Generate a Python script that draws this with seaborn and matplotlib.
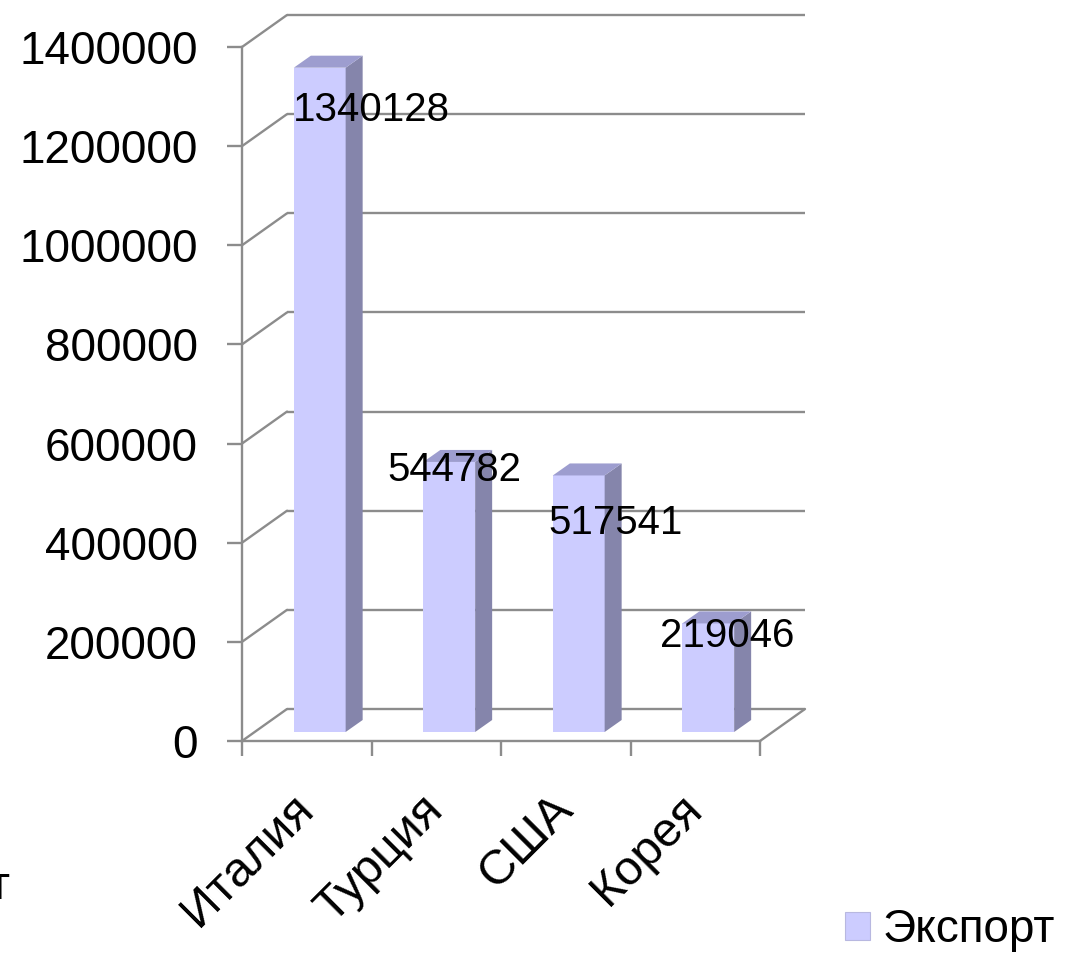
import numpy as np
import pandas as pd
import matplotlib.pyplot as plt
import seaborn as sns
from matplotlib.patches import Polygon, Patch
from matplotlib.transforms import ScaledTranslation

# Данные
countries = ['Италия', 'Турция', 'США', 'Корея']
export = [1340128, 544782, 517541, 219046]
y_ticks = [0, 200000, 400000, 600000, 800000, 1000000, 1200000, 1400000]
series_name = 'Экспорт'

# Стиль
sns.set_style('white')
plt.rcParams['font.family'] = ['Liberation Sans', 'DejaVu Sans']
plt.rcParams['text.color'] = 'black'

front_col = '#ccccff'
side_col = '#8585ab'
top_col = '#9d9dcf'
grid_col = '#8c8c8c'
lw = 1.7

W, H = 1068, 955
fig = plt.figure(figsize=(W / 100, H / 100), dpi=100)
# передняя плоскость осей (в пикселях): x 242..760, y 741..47
ax = fig.add_axes([242 / W, 1 - 741 / H, (760 - 242) / W, (741 - 47) / H])

df = pd.DataFrame({'country': countries, 'export': export})
sns.barplot(data=df, x='country', y='export', color=front_col, saturation=1,
            width=0.4, linewidth=0, ax=ax, zorder=3)

n = len(countries)
ax.set_xlim(-0.5, n - 0.5)
ax.set_ylim(y_ticks[0], y_ticks[-1])

# пиксели -> единицы данных
cx = n / (760 - 242)
cy = (y_ticks[-1] - y_ticks[0]) / (741 - 47)

# смещения псевдо-3D (в пикселях)
wall_dx, wall_dy = 45, 32   # глубина стенок
bar_fx, bar_fy = 13, 9      # сдвиг передней грани столбца
bar_dx, bar_dy = 17, 12     # глубина столбца

Dx, Dy = wall_dx * cx, wall_dy * cy

# задняя стенка и левая стенка
for v in y_ticks:
    ax.plot([-0.5 + Dx, n - 0.5 + Dx], [v + Dy, v + Dy], color=grid_col, lw=lw,
            clip_on=False, zorder=1, solid_capstyle='butt')
    ax.plot([-0.5, -0.5 + Dx], [v, v + Dy], color=grid_col, lw=lw,
            clip_on=False, zorder=1)
ax.plot([n - 0.5, n - 0.5 + Dx], [0, Dy], color=grid_col, lw=lw,
        clip_on=False, zorder=1)

# боковые и верхние грани столбцов
for p in ax.patches:
    x0 = p.get_x() + bar_fx * cx
    w = p.get_width()
    h = p.get_height()
    y0 = bar_fy * cy
    p.set_x(x0)
    p.set_y(y0)
    bx, by = bar_dx * cx, bar_dy * cy
    x1, y1 = x0 + w, y0 + h
    side = Polygon([(x1, y0), (x1 + bx, y0 + by), (x1 + bx, y1 + by), (x1, y1)],
                   closed=True, facecolor=side_col, edgecolor='none',
                   zorder=3, clip_on=False)
    top = Polygon([(x0, y1), (x0 + bx, y1 + by), (x1 + bx, y1 + by), (x1, y1)],
                  closed=True, facecolor=top_col, edgecolor='none',
                  zorder=3, clip_on=False)
    ax.add_patch(side)
    ax.add_patch(top)

# подписи значений (смещения в пикселях от левого верхнего угла передней грани)
label_off = [(-1, 42), (-36, 8), (-4, 48), (-22, 13)]
for p, val, (ox, oy) in zip(ax.patches[:n], export, label_off):
    ax.annotate(str(val), xy=(p.get_x(), p.get_y() + p.get_height()),
                xytext=(ox * 0.72, -oy * 0.72), textcoords='offset points',
                ha='left', va='center', fontsize=29, color='black',
                zorder=5, annotation_clip=False)

# оси
for s in ['top', 'right']:
    ax.spines[s].set_visible(False)
for s in ['left', 'bottom']:
    ax.spines[s].set_color(grid_col)
    ax.spines[s].set_linewidth(lw)

ax.set_yticks(y_ticks)
ax.set_yticklabels([str(v) for v in y_ticks])
ax.tick_params(axis='y', which='major', direction='out', length=11, width=lw,
               color=grid_col, labelcolor='black', pad=21, labelsize=33,
               left=True)

ax.set_xticks(range(n))
ax.set_xticklabels(countries, rotation=45, ha='right', va='top',
                   rotation_mode='anchor')
ax.set_xticks(np.arange(n + 1) - 0.5, minor=True)
ax.tick_params(axis='x', which='major', length=0, pad=34, labelsize=35,
               labelcolor='black')
ax.tick_params(axis='x', which='minor', direction='out', length=11, width=lw,
               color=grid_col, bottom=True)
shift = ScaledTranslation(-16 / 100, 2 / 100, fig.dpi_scale_trans)
for lab in ax.get_xticklabels():
    lab.set_transform(lab.get_transform() + shift)
ax.set_xlabel('')
ax.set_ylabel('')
ax.grid(False)

# легенда
handles = [Patch(facecolor=front_col, edgecolor='#b8b8e0', linewidth=0.8)]
fig.legend(handles, [series_name], loc='center left',
           bbox_to_anchor=(845 / W, 1 - 930 / H), frameon=False, fontsize=33,
           handlelength=0.55, handleheight=0.55, handletextpad=0.27,
           borderpad=0, borderaxespad=0, labelcolor='black')

# обрезанный фрагмент подписи у левого края
fig.text(-12 / W, 1 - 887 / H, 'т', fontsize=33, ha='left', va='center',
         color='black')

fig.savefig('out.png', dpi=100)
